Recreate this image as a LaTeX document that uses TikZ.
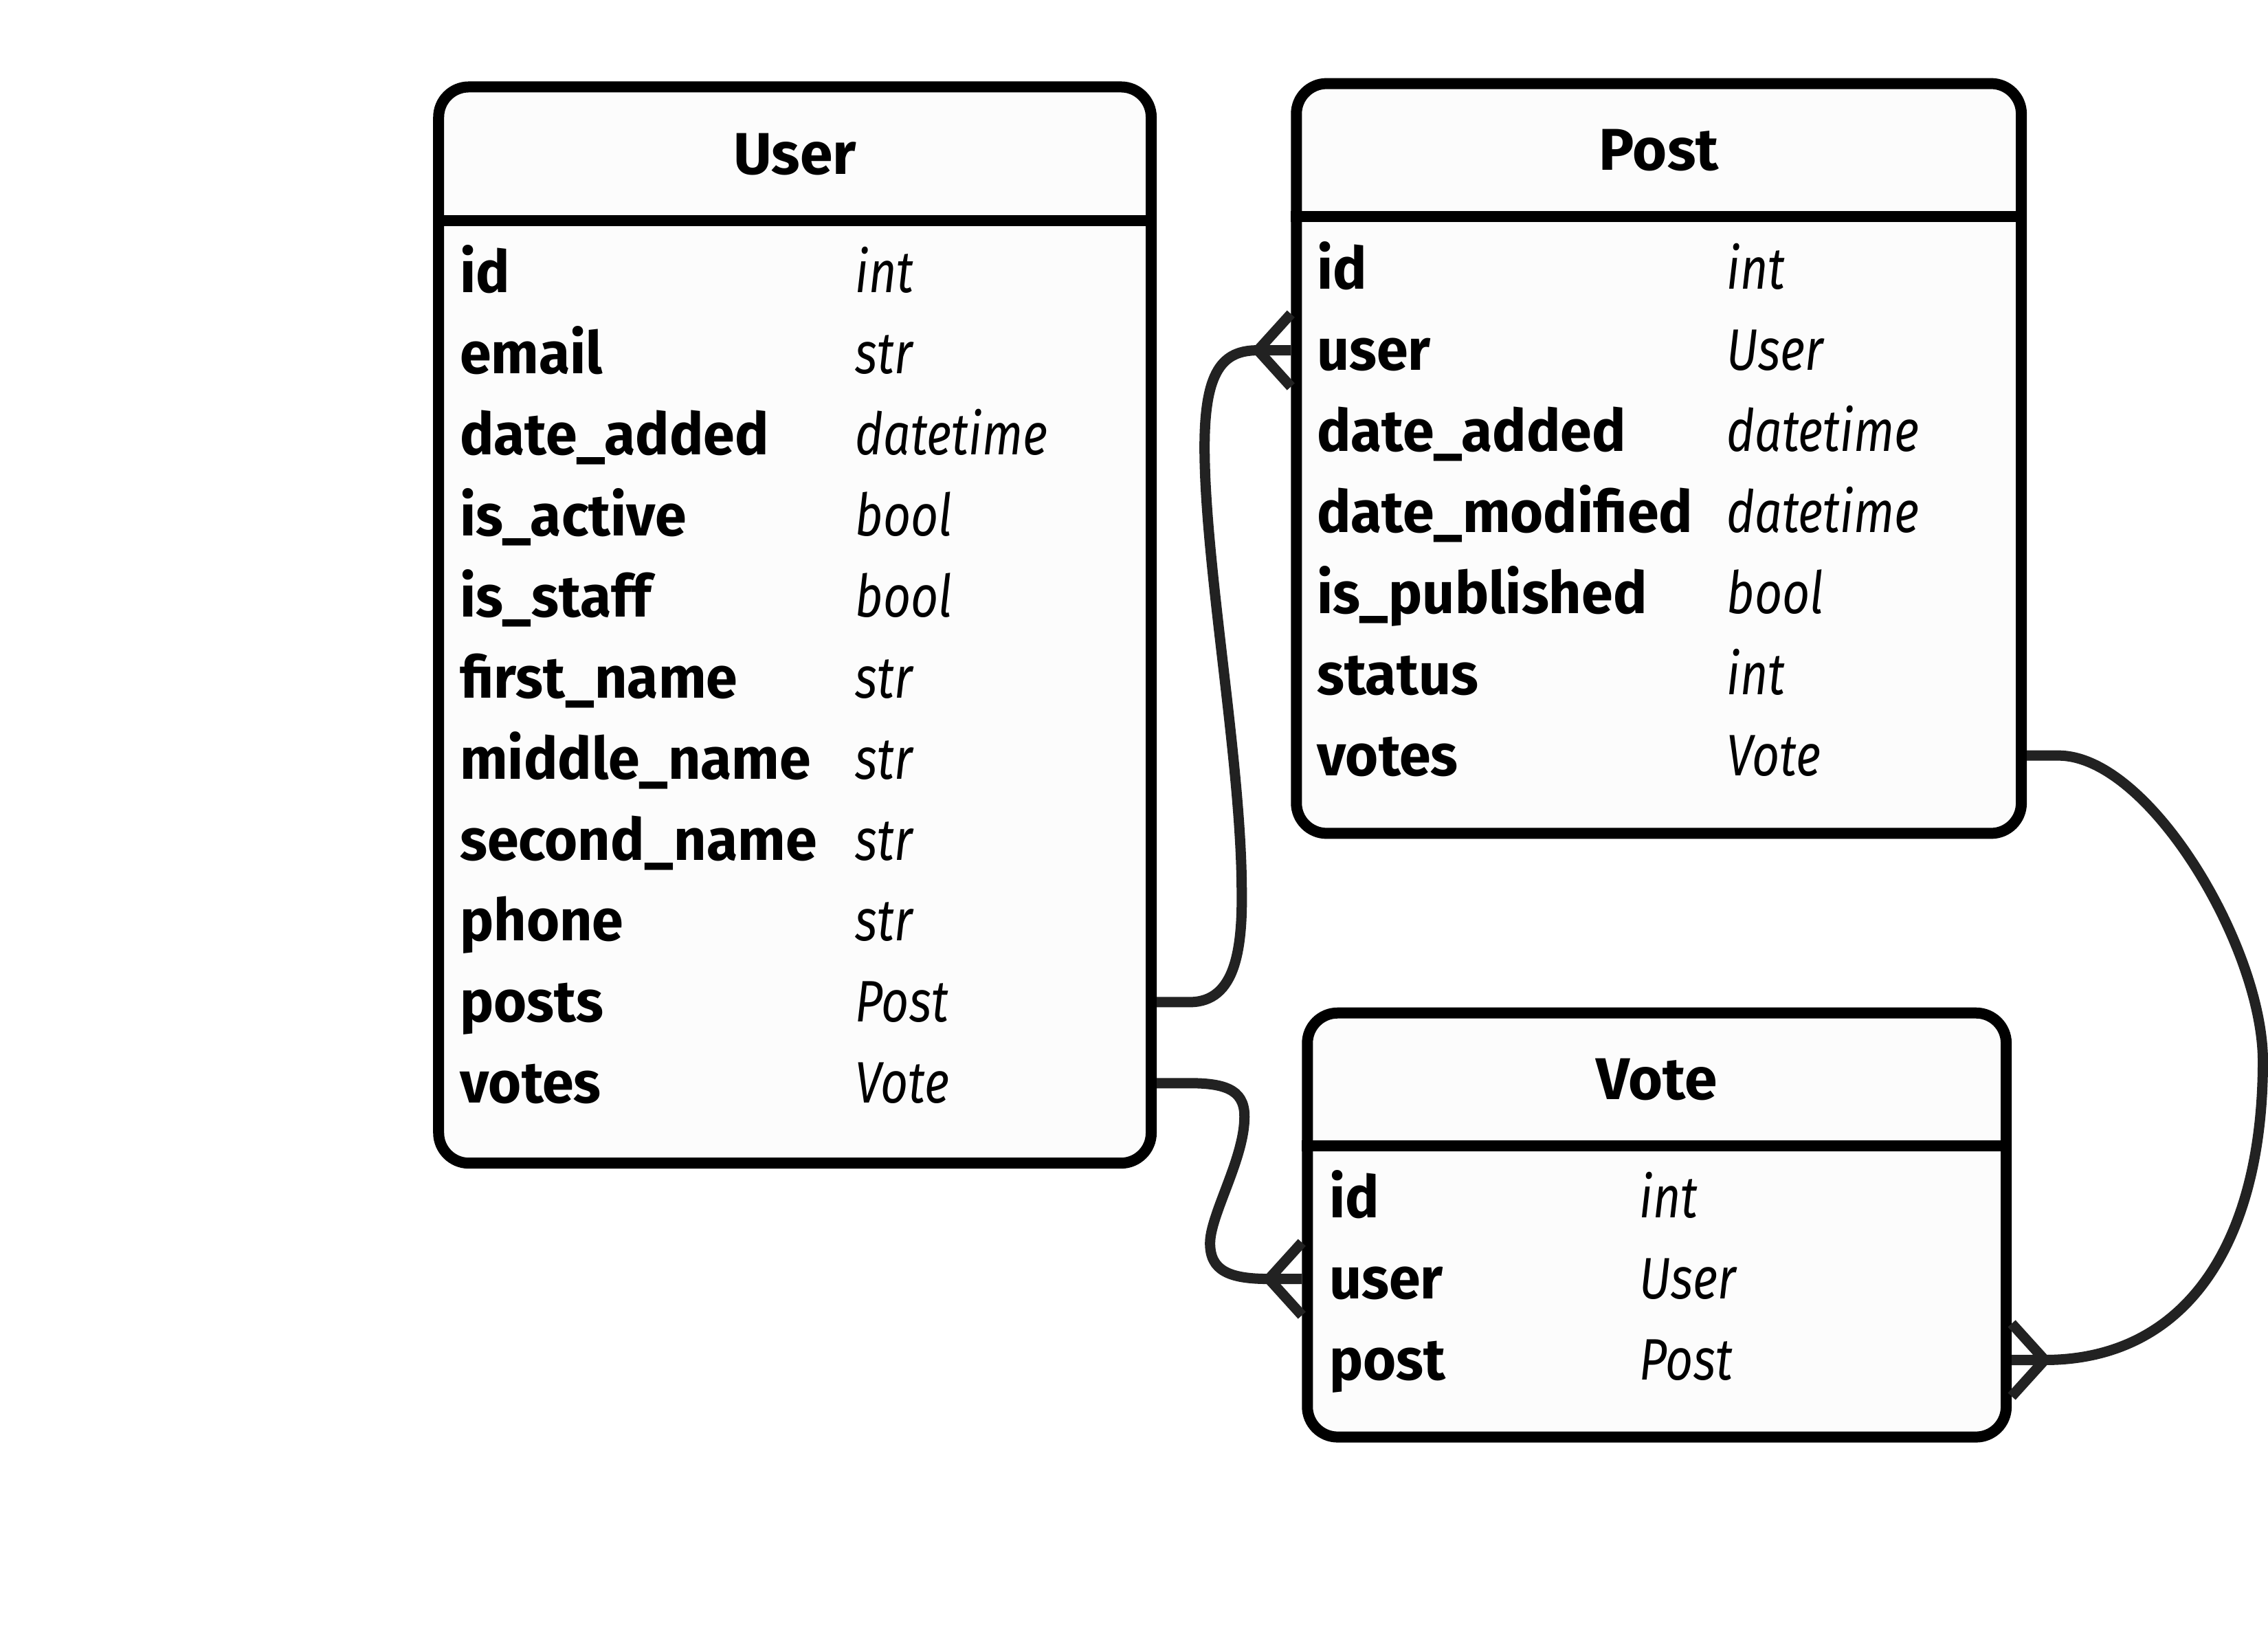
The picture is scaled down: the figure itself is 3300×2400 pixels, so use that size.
\documentclass[tikz,border=0pt]{standalone}
\usepackage{fontspec}
\setmainfont{Fira Sans}
\newfontfamily\typefont[FakeStretch=0.82]{Fira Sans}
\newfontfamily\fieldfont[FakeStretch=0.97]{Fira Sans}
\usetikzlibrary{calc}
\definecolor{link}{HTML}{222222}

\begin{document}
\begin{tikzpicture}[x=0.01cm,y=-0.01cm,
    entity/.style={draw=black,fill=white!99!black,line width=0.16cm,rounded corners=0.44cm,inner sep=0pt,outer sep=0.08cm},
    sep/.style={line width=0.16cm},
    header/.style={anchor=base,inner sep=0pt,font=\fontsize{24.4}{29}\selectfont\bfseries},
    field/.style={anchor=base west,inner sep=0pt,font=\fontsize{24.2}{29}\selectfont\fieldfont\bfseries},
    ftype/.style={anchor=base west,inner sep=0pt,font=\fontsize{24.2}{29}\selectfont\typefont\itshape},
    rel/.style={draw=link,line width=0.15cm}]

\fill [white] (0,0) rectangle (3300,2400);

\node [entity,minimum width=10.37cm,minimum height=15.66cm] (user) at (1157.5,910) {};
\node [entity,minimum width=10.55cm,minimum height=10.91cm] (post) at (2415.5,667.5) {};
\node [entity,minimum width=10.17cm,minimum height=6.17cm] (vote) at (2412.5,1783.5) {};

\node [header] (usert) at (user.north |- 0,254) {User};
\node [header] (postt) at (post.north |- 0,248) {Post};
\node [header] (votet) at (vote.north |- 0,1601) {Vote};

\draw [sep] (user.west |- 0,321) -- (user.east |- 0,321);
\draw [sep] (post.west |- 0,315) -- (post.east |- 0,315);
\draw [sep] (vote.west |- 0,1668) -- (vote.east |- 0,1668);

\foreach \f/\t [count=\i from 0] in {id/int,email/str,date\_added/datetime,is\_active/bool,is\_staff/bool,first\_name/str,middle\_name/str,second\_name/str,phone/str,posts/Post,votes/Vote} {
    \node [field] (u\i) at (669,{426+118*\i}) {\f};
    \node [ftype] (ut\i) at (1245,{426+118*\i}) {\t};
}
\foreach \f/\t [count=\i from 0] in {id/int,user/User,date\_added/datetime,date\_modified/datetime,is\_published/bool,status/int,votes/Vote} {
    \node [field] (p\i) at (1917,{421+118*\i}) {\f};
    \node [ftype] (pt\i) at (2514,{421+118*\i}) {\t};
}
\foreach \f/\t [count=\i from 0] in {id/int,user/User,post/Post} {
    \node [field] (v\i) at (1935,{1773+118*\i}) {\f};
    \node [ftype] (vt\i) at (2387,{1773+118*\i}) {\t};
}

\coordinate (a1) at ($(user.east |- u9.base)+(0,-29)$);
\coordinate (b1) at ($(post.west |- p1.base)+(0,-29)$);
\coordinate (a2) at ($(user.east |- u10.base)+(0,-29)$);
\coordinate (b2) at ($(vote.west |- v1.base)+(0,-29)$);
\coordinate (a3) at ($(post.east |- p6.base)+(0,-29)$);
\coordinate (b3) at ($(vote.east |- v2.base)+(0,-29)$);

\path [rel]
    (a1) -- ++(48,0)
        .. controls (1800,1459) and (1810,1380) .. (1808,1287)
        .. controls (1806,1100) and (1754,820) .. (1754,651)
        .. controls (1754,540) and (1780,510) .. ($(b1)+(-48,0)$) -- (b1)
    (a2) -- ++(49,0)
        .. controls (1790,1577) and (1814,1590) .. (1812,1630)
        .. controls (1810,1690) and (1762,1770) .. (1762,1810)
        .. controls (1762,1850) and (1790,1862) .. ($(b2)+(-48,0)$) -- (b2)
    (a3) -- ++(46,0)
        .. controls (3130,1100) and (3295,1380) .. (3295,1545)
        .. controls (3295,1800) and (3190,1980) .. ($(b3)+(48,0)$) -- (b3)
;

\draw [rel] ($(b1)+(0,-53)$) -- ($(b1)+(-48,0)$) -- ($(b1)+(0,53)$);
\draw [rel] ($(b2)+(0,-53)$) -- ($(b2)+(-48,0)$) -- ($(b2)+(0,53)$);
\draw [rel] ($(b3)+(0,-53)$) -- ($(b3)+(48,0)$) -- ($(b3)+(0,53)$);

\end{tikzpicture}
\end{document}
